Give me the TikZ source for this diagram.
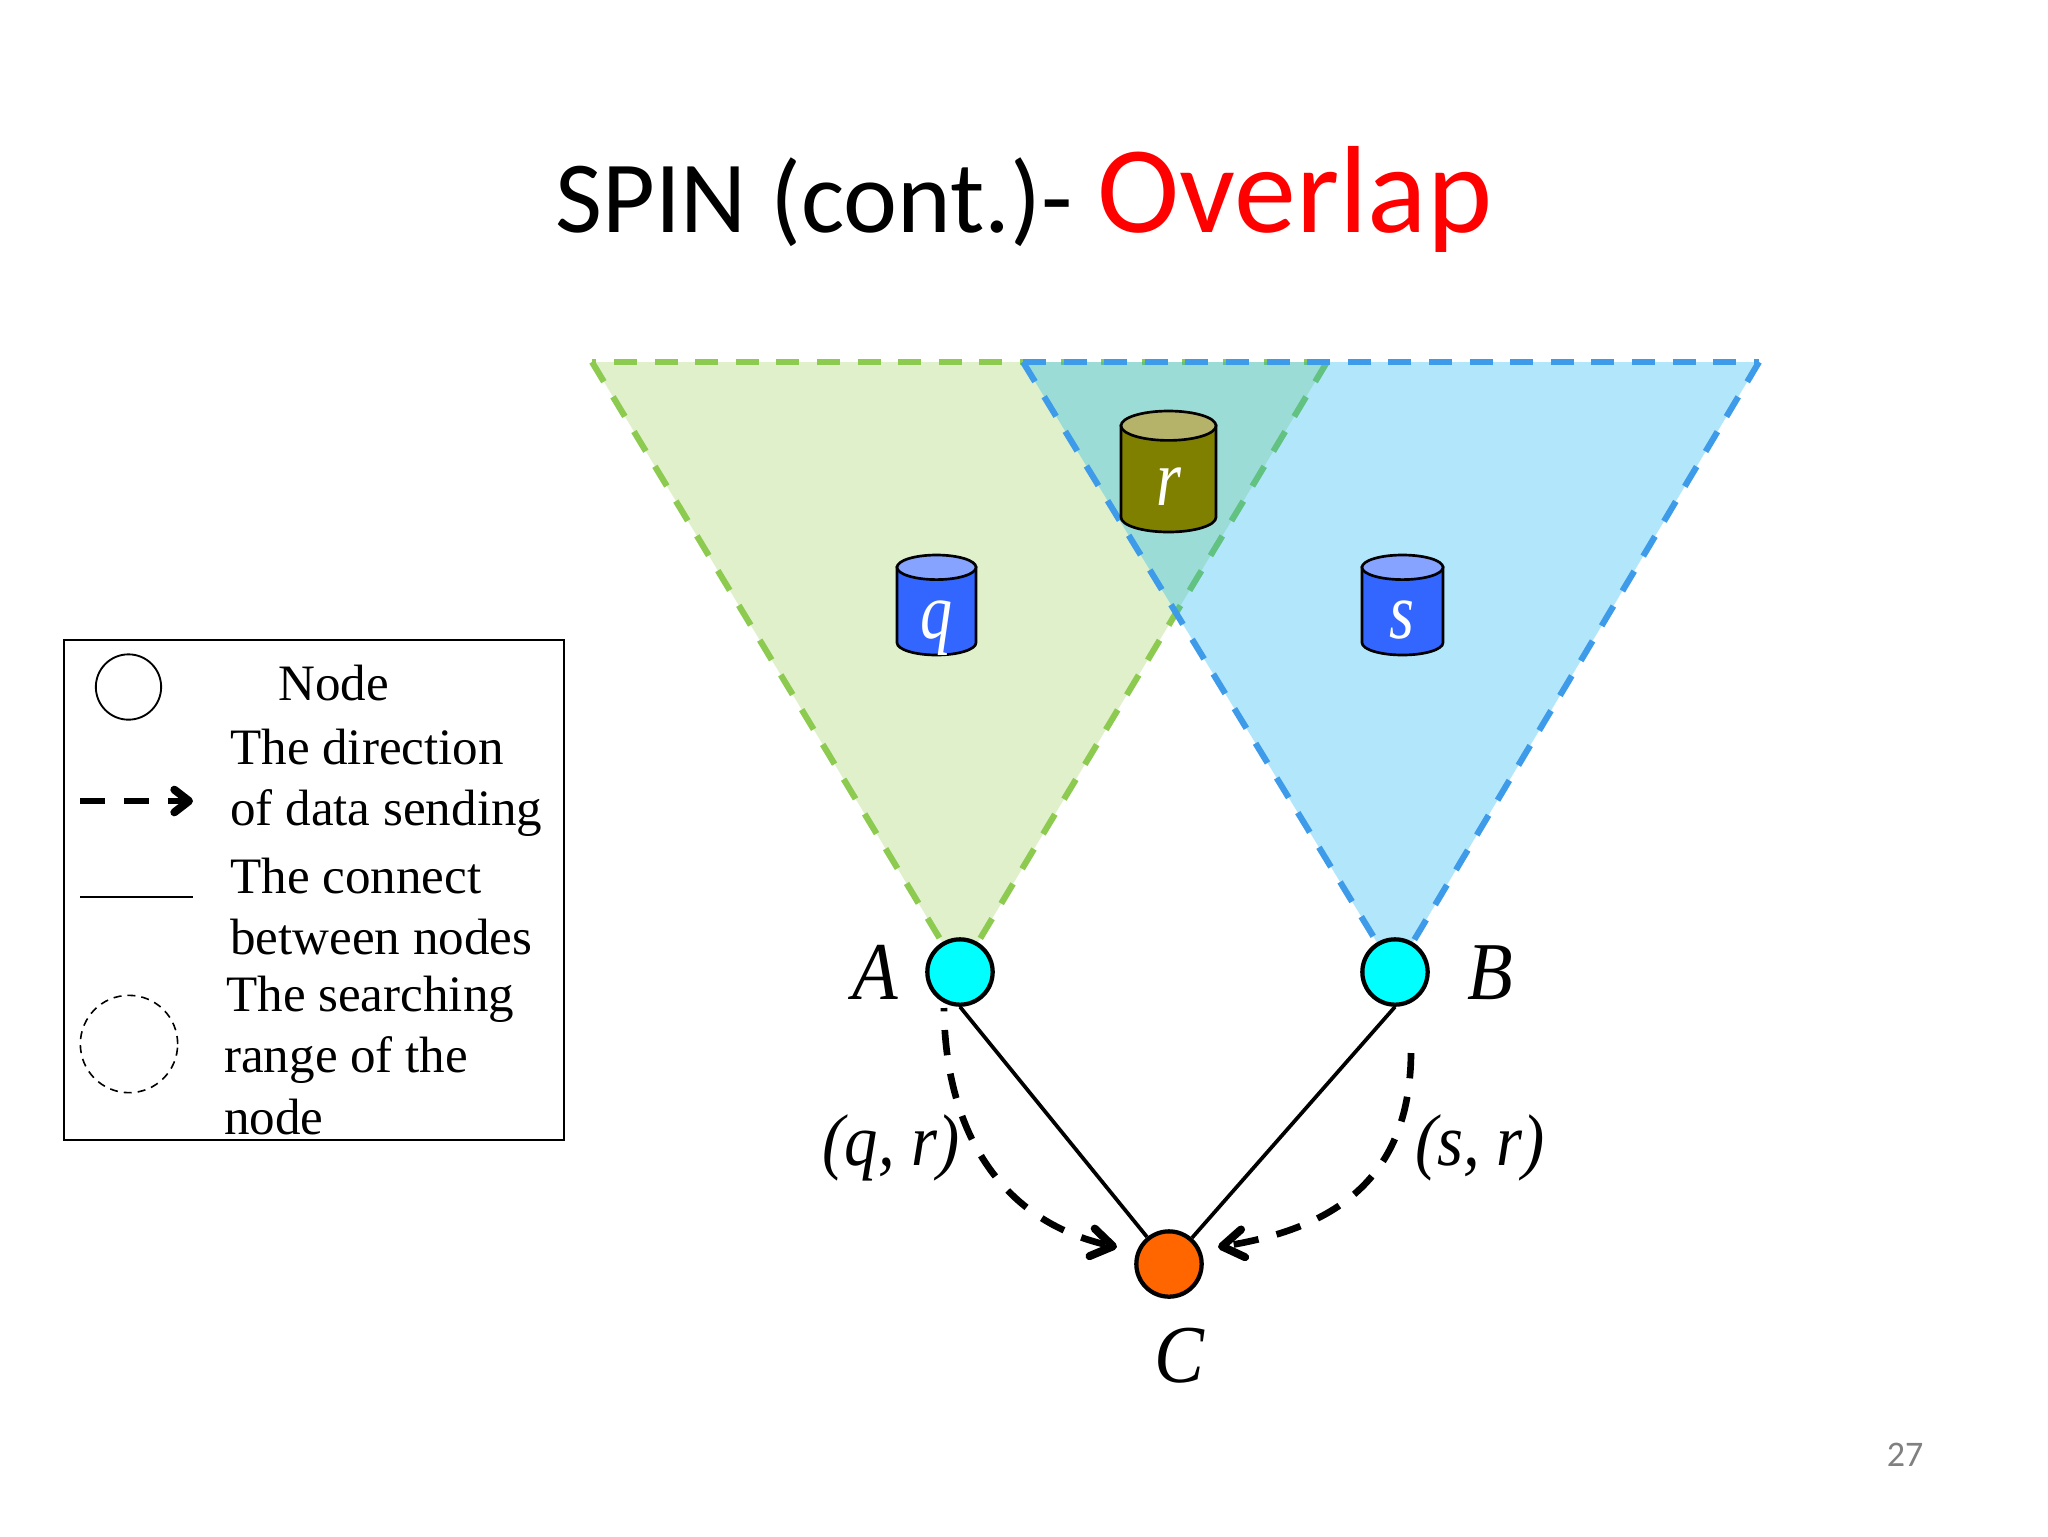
\documentclass[tikz,border=0pt]{standalone}
\usepackage{graphicx}
\usepackage{fontspec}
\setmainfont{Liberation Serif}
\newfontfamily\titlefont{Carlito}
\usetikzlibrary{arrows.meta,bending}
\definecolor{greenfill}{HTML}{E0F0CB}
\definecolor{greenline}{HTML}{8CCB50}
\definecolor{blueline}{HTML}{3D9BE9}
\definecolor{bluetint}{RGB}{0,175,245}
\definecolor{drumblue}{HTML}{3366FF}
\definecolor{drumbluetop}{HTML}{85A3FF}
\definecolor{drumolive}{HTML}{808000}
\definecolor{drumolivetop}{HTML}{B5B36A}
\definecolor{nodecyan}{HTML}{00FFFF}
\definecolor{nodeorange}{HTML}{FF6600}
\tikzset{
  rangeedge/.style={line width=4.6pt,dash pattern=on 17.25pt off 13.2pt},
  netnode/.style={circle,draw=black,line width=3.2pt,minimum size=49pt,inner sep=0pt},
  link/.style={draw=black,line width=2.8pt},
  sendarrow/.style={draw=black,line width=5pt,dash pattern=on 19pt off 14pt,dash phase=16.5pt,
    -{Straight Barb[length=16pt,width=21pt,line width=6pt,round]}},
  legendtext/.style={anchor=base west,inner sep=0pt,font=\fontsize{38.3}{40}\selectfont},
  biglabel/.style={anchor=base,inner sep=0pt,font=\fontsize{56}{60}\selectfont\itshape},
  pairlabel/.style={anchor=base,inner sep=0pt,font=\fontsize{50}{54}\selectfont\itshape},
  drumlabel/.style={anchor=base,inner sep=0pt,text=white,font=\fontsize{48}{50}\selectfont\itshape},
  drumline/.style={draw=black,line width=2pt},
}
\newcommand{\tallA}[1]{\scalebox{1}[1.1]{#1}}
\newcommand{\tallB}[1]{\scalebox{1}[1.25]{#1}}
\newcommand{\drum}[7]{% left,right,top,bottom,ry,body,lid
  \path[drumline,fill=#6] (#1,#3+#5) -- (#1,#4-#5) arc[start angle=180,end angle=0,x radius={(#2-#1)/2},y radius=#5] -- (#2,#3+#5) -- cycle;
  \path[drumline,fill=#7] ({(#1+#2)/2},#3+#5) ellipse[x radius={(#2-#1)/2},y radius=#5];
}
\begin{document}
\begin{tikzpicture}[x=0.75pt,y=-0.75pt]
\useasboundingbox[fill=white] (0,0) rectangle (2048,1536);
% title
\node[anchor=base west,inner sep=0pt,font=\titlefont\fontsize{76.7}{80}\selectfont] (title) at (555,232) {SPIN (cont.)-};
\node[anchor=base west,inner sep=0pt,text=red,font=\titlefont\fontsize{93}{96}\selectfont] (overlap) at (1097,232) {Overlap};
\node[anchor=base,inner sep=0pt,text=black!50,font=\titlefont\fontsize{27}{29}\selectfont] (pagenum) at (1905,1466) {27};
% range triangles
\coordinate (gl) at (592,362);
\coordinate (gr) at (1327,362);
\coordinate (ga) at (960,972);
\coordinate (bl) at (1023,362);
\coordinate (br) at (1759,362);
\coordinate (ba) at (1395,972);
\fill[greenfill] (gl) -- (gr) -- (ga) -- cycle;
\draw[rangeedge,greenline,dash phase=14pt] (gl) -- (gr);
\draw[rangeedge,greenline] (gl) -- (ga);
\draw[rangeedge,greenline] (gr) -- (ga);
\fill[bluetint,fill opacity=0.3] (bl) -- (br) -- (ba) -- cycle;
\draw[rangeedge,blueline] (bl) -- (br);
\draw[rangeedge,blueline] (bl) -- (ba);
\draw[rangeedge,blueline] (br) -- (ba);
% drums
\drum{1121}{1216}{411}{532}{14.7}{drumolive}{drumolivetop}
\drum{897}{976}{555}{655}{12.3}{drumblue}{drumbluetop}
\drum{1362}{1443}{555}{655}{12.3}{drumblue}{drumbluetop}
\node[drumlabel] (r) at (1169,505) {\tallB{r}};
\node[drumlabel] (q) at (936,638) {\tallB{q}};
\node[drumlabel] (s) at (1402,638) {\tallB{s}};
% nodes
\node[netnode,fill=nodecyan] (A) at (960,972) {};
\node[netnode,fill=nodecyan] (B) at (1395,972) {};
\node[netnode,fill=nodeorange] (C) at (1169,1264) {};
\draw[link] (A.south) -- (C);
\draw[link] (B.south) -- (C);
\coordinate (sa) at (944,1008);
\coordinate (sb) at (1411,1053);
\coordinate (ea) at (1117,1247);
\coordinate (eb) at (1218,1247);
\draw[sendarrow] (sa) .. controls (945,1130) and (1000,1225) .. (ea);
\draw[sendarrow,dash phase=0pt] (sb) .. controls (1410,1190) and (1320,1232) .. (eb);
\node[biglabel] (la) at (875,999) {\tallA{A}};
\node[biglabel] (lb) at (1490,999) {\tallA{B}};
\node[biglabel] (lc) at (1179,1382) {\tallA{C}};
\node[pairlabel] (qr) at (891,1165) {\tallA{(q, r)}};
\node[pairlabel] (sr) at (1480,1165) {\tallA{(s, r)}};
% legend
\node[draw=black,line width=1.5pt,inner sep=0pt,minimum width=375pt,minimum height=375pt,anchor=north west] (legend) at (63,639) {};
\node[circle,draw=black,line width=1.4pt,minimum size=49pt,inner sep=0pt] (lnode) at (128.5,687) {};
\node[legendtext] (t1) at (278,700) {Node};
\node[legendtext] (t2) at (230,764) {The direction};
\node[legendtext] (t3) at (230,825) {of data sending};
\node[legendtext] (t4) at (230,893) {The connect};
\node[legendtext] (t5) at (230,954) {between nodes};
\node[legendtext] (t6) at (226,1011) {The searching};
\node[legendtext] (t7) at (224,1072) {range of the};
\node[legendtext] (t8) at (224,1134) {node};
\coordinate (d1) at (80,801);
\coordinate (d2) at (193,801);
\coordinate (c1) at (80,897);
\coordinate (c2) at (193,897);
\draw[draw=black,line width=4.6pt,dash pattern=on 19pt off 14pt,-{Straight Barb[length=11pt,width=17pt,line width=6pt,round]}] (d1) -- (d2);
\draw[draw=black,line width=1.4pt] (c1) -- (c2);
\node[circle,draw=black,line width=1.2pt,dash pattern=on 6pt off 4.5pt,minimum size=73pt,inner sep=0pt] (lrange) at (129,1044) {};
\end{tikzpicture}
\end{document}
